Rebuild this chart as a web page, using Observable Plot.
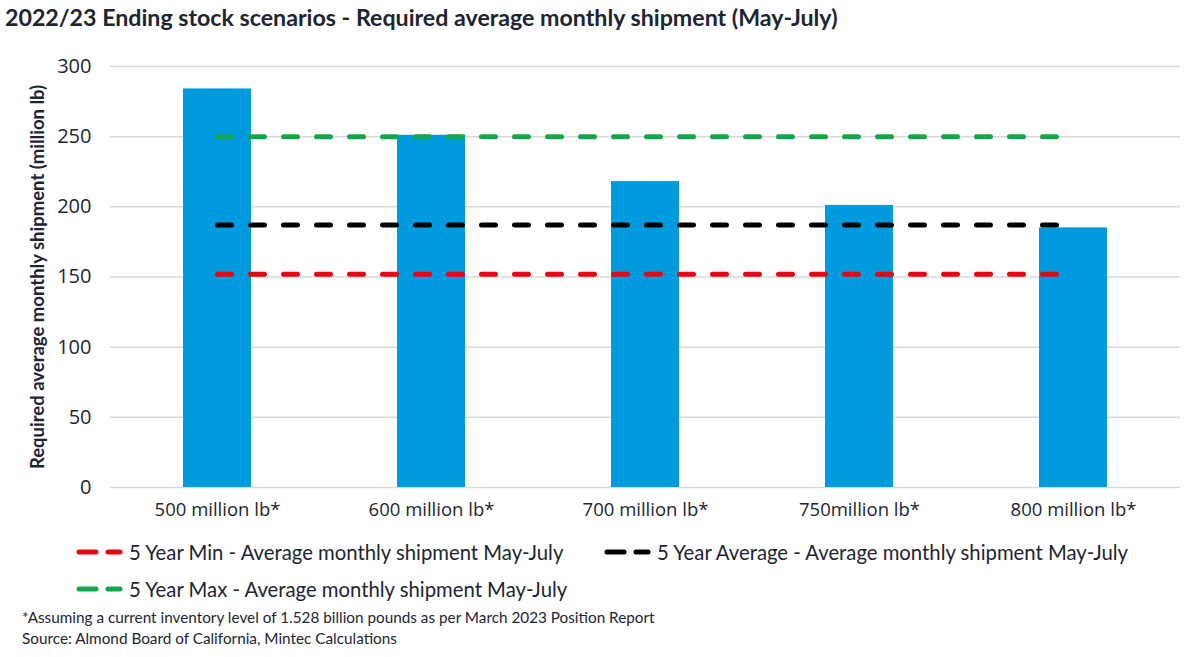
<!DOCTYPE html>
<html>
<head>
<meta charset="utf-8">
<script src="https://cdn.jsdelivr.net/npm/d3@7"></script>
<script src="https://cdn.jsdelivr.net/npm/@observablehq/plot@0.6"></script>
<style>
  body { margin: 0; background: #fff; width: 1190px; height: 657px; overflow: hidden; font-family: Lato, "Open Sans", sans-serif; color: #1d2533; }
  #title { position: absolute; left: 5px; top: 3px; font-size: 23.2px; font-weight: 700; color: #1d2533; white-space: nowrap; }
  #chart { position: absolute; left: 0; top: 40px; }
  .leg { position: absolute; display: flex; align-items: center; font-size: 20.3px; color: #1d2533; white-space: nowrap; }
  .leg svg { margin-right: 5px; }
  .note { position: absolute; left: 22px; font-size: 15.3px; color: #1d2533; white-space: nowrap; }
  #chart g[aria-label='y-axis tick label'] text, #chart g[aria-label='x-axis tick label'] text { font-family: "Open Sans", sans-serif; fill: #1d2533; }
</style>
</head>
<body>
<div id="title">2022/23 Ending stock scenarios - Required average monthly shipment (May-July)</div>
<div id="chart"></div>
<div id="legend"></div>
<div class="note" style="top:608px">*Assuming a current inventory level of 1.528 billion pounds as per March 2023 Position Report</div>
<div class="note" style="top:629px">Source: Almond Board of California, Mintec Calculations</div>
<script>
const categories = ["500 million lb*", "600 million lb*", "700 million lb*", "750million lb*", "800 million lb*"];
const required = [284, 251, 218, 201, 185];
const fiveYearMin = [152, 152, 152, 152, 152];
const fiveYearAvg = [187, 187, 187, 187, 187];
const fiveYearMax = [250, 250, 250, 250, 250];
const yTicks = [0, 50, 100, 150, 200, 250, 300];

const seriesNames = [
  "5 Year Min - Average monthly shipment May-July",
  "5 Year Average - Average monthly shipment May-July",
  "5 Year Max - Average monthly shipment May-July"
];
const seriesColors = ["#e30613", "#000000", "#13a64f"];
const seriesValues = [fiveYearMin, fiveYearAvg, fiveYearMax];

const bars = categories.map((c, i) => ({category: c, value: required[i]}));
const lines = seriesNames.flatMap((s, j) => categories.map((c, i) => ({series: s, category: c, value: seriesValues[j][i]})));

const chart = Plot.plot({
  width: 1190,
  height: 495,
  marginLeft: 110,
  marginRight: 10,
  marginTop: 26,
  marginBottom: 48,
  style: {fontFamily: "Lato, sans-serif", fontSize: "17px", color: "#1d2533", background: "transparent", overflow: "visible"},
  x: {domain: categories, paddingInner: 0.682, paddingOuter: 0.341, align: 0.5, label: null},
  y: {domain: [0, 300], ticks: yTicks, label: null},
  marks: [
    Plot.ruleY(yTicks, {stroke: "#d9d9d9", strokeWidth: 1.5}),
    Plot.barY(bars, {x: "category", y: "value", fill: "#009ade"}),
    Plot.lineY(lines, {x: "category", y: "value", z: "series", stroke: (d) => seriesColors[seriesNames.indexOf(d.series)], strokeWidth: 5, strokeDasharray: "14,19", strokeLinecap: "round"}),
    Plot.axisY({ticks: yTicks, tickSize: 0, tickPadding: 19, fontSize: 20, label: "Required average monthly shipment (million lb)", labelAnchor: "center", labelArrow: "none", labelOffset: 80}),
    Plot.axisX({tickSize: 0, tickPadding: 15, fontSize: 18.5, label: null})
  ]
});
document.getElementById("chart").appendChild(chart);
const svg = d3.select(chart);
svg.selectAll("g[aria-label='y-axis label'] text")
  .attr("font-size", 18.5).attr("font-weight", 700).attr("font-family", "Lato, sans-serif").attr("fill", "#1d2533");

const legendItems = [
  {i: 0, left: 74, top: 540},
  {i: 1, left: 602, top: 540},
  {i: 2, left: 74, top: 577}
];
const legend = document.getElementById("legend");
legendItems.forEach(({i, left, top}) => {
  const d = document.createElement("div");
  d.className = "leg";
  d.style.left = left + "px";
  d.style.top = top + "px";
  const c = seriesColors[i];
  d.innerHTML = `<svg width="50" height="10"><line x1="5" y1="5" x2="22" y2="5" stroke="${c}" stroke-width="5" stroke-linecap="round"/><line x1="34" y1="5" x2="46" y2="5" stroke="${c}" stroke-width="5" stroke-linecap="round"/></svg><span>${seriesNames[i]}</span>`;
  legend.appendChild(d);
});
</script>
</body>
</html>
